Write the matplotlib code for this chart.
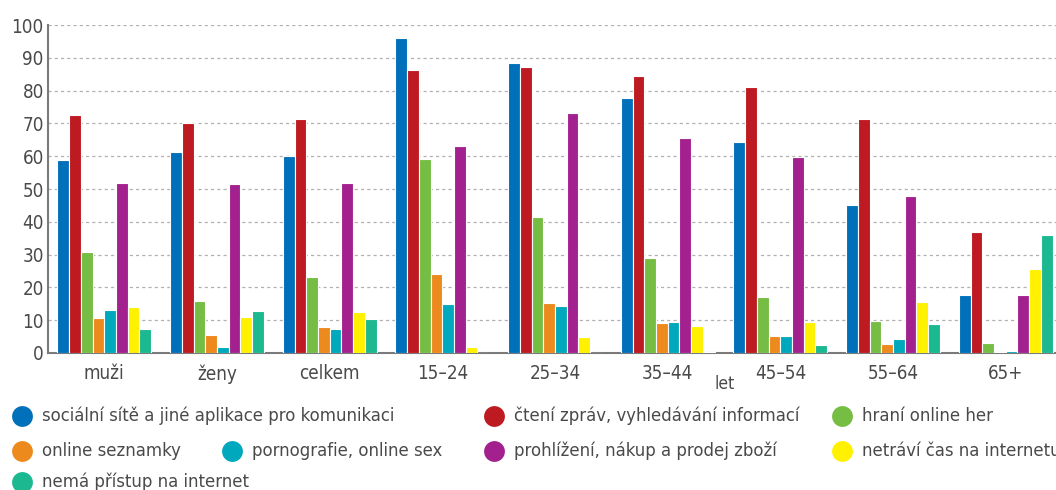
import numpy as np
import matplotlib
matplotlib.use("Agg")
import matplotlib.pyplot as plt
from matplotlib.lines import Line2D

plt.rcParams['font.family'] = ['DejaVu Sans']
plt.rcParams['font.stretch'] = 'condensed'

groups = ["muži", "ženy", "celkem", "15–24", "25–34", "35–44", "45–54", "55–64", "65+"]

labels = ["sociální sítě a jiné aplikace pro komunikaci",
          "čtení zpráv, vyhledávání informací",
          "hraní online her",
          "online seznamky",
          "pornografie, online sex",
          "prohlížení, nákup a prodej zboží",
          "netráví čas na internetu",
          "nemá přístup na internet"]

colors = ["#0070ba", "#be1a21", "#76bd43", "#ec8a1e", "#00a8bd", "#a3218e", "#fff100", "#1cb890"]

socialni = [58.9, 61.4, 60.2, 95.9, 88.5, 77.6, 64.3, 45.0, 17.8]
zpravy = [72.6, 70.0, 71.3, 86.2, 87.3, 84.4, 81.2, 71.2, 37.0]
hry = [30.9, 15.9, 23.3, 59.2, 41.6, 29.0, 17.2, 9.9, 3.0]
seznamky = [10.7, 5.5, 8.0, 24.1, 15.3, 9.2, 5.3, 2.6, 0.4]
porno = [13.2, 1.7, 7.3, 14.9, 14.2, 9.6, 5.3, 4.4, 0.6]
nakup = [51.7, 51.5, 51.8, 63.1, 73.3, 65.7, 59.8, 47.9, 17.7]
netravi = [13.9, 11.1, 12.5, 1.9, 4.8, 8.2, 9.5, 15.7, 25.6]
nema = [7.4, 12.9, 10.3, 0.0, 0.0, 0.3, 2.3, 8.7, 35.9]

series = [socialni, zpravy, hry, seznamky, porno, nakup, netravi, nema]

fig = plt.figure(figsize=(10.56, 4.9), dpi=100)
W, H = 1056, 490
ax = fig.add_axes([48 / W, 1 - 353 / H, 1014 / W, 328 / H])

x = np.arange(len(groups))
bw = 0.104
for i, (vals, c) in enumerate(zip(series, colors)):
    ax.bar(x + (i - 3.5) * bw, vals, bw, color=c, edgecolor="white", linewidth=0.8, zorder=3)

ax.set_xlim(-0.5, len(groups) - 0.5)
ax.set_ylim(0, 100)
ax.set_yticks(range(0, 101, 10))
ax.yaxis.grid(True, linestyle=(0, (2.5, 2.5)), color="#b0b0b0", linewidth=0.9)
ax.set_axisbelow(True)
for s in ["top", "right"]:
    ax.spines[s].set_visible(False)
for s in ["left", "bottom"]:
    ax.spines[s].set_color("#7a7a7a")
    ax.spines[s].set_linewidth(1.5)
ax.tick_params(length=0, labelsize=13.5, colors="#4a4a4a", pad=8)
ax.tick_params(axis="y", pad=3)
ax.set_xticks(x)
ax.set_xticklabels(groups)
fig.text(725 / W, 1 - 384 / H, "let", ha="center", va="center", fontsize=12.5, color="#4a4a4a")

# legend
rows = [416, 451, 482]
entries = [(0, 22, 0), (1, 494, 0), (2, 842, 0),
           (3, 22, 1), (4, 232, 1), (5, 494, 1), (6, 842, 1),
           (7, 22, 2)]
for idx, px, r in entries:
    yy = 1 - rows[r] / H
    fig.add_artist(Line2D([px / W], [yy], marker="o", markersize=15, color=colors[idx],
                          markeredgewidth=0, transform=fig.transFigure))
    fig.text((px + 20) / W, yy, labels[idx], ha="left", va="center", fontsize=13.2, color="#4a4a4a")

plt.savefig("out.png", dpi=100)
